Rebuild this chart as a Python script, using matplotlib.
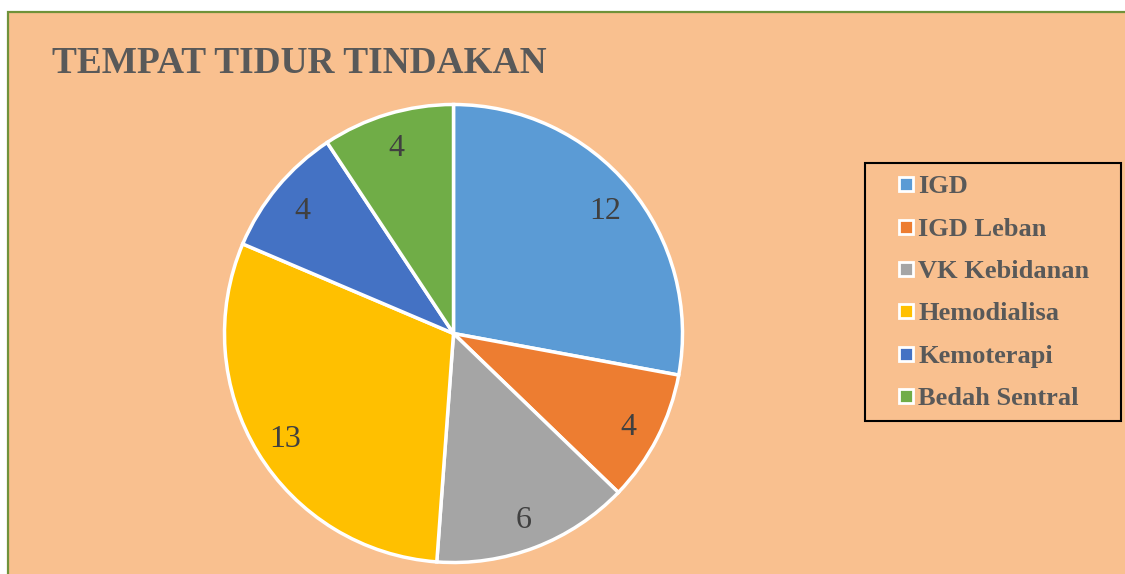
import matplotlib
matplotlib.use("Agg")
import matplotlib.pyplot as plt
from matplotlib.patches import Rectangle
from matplotlib.lines import Line2D

# chart data
labels = ['IGD', 'IGD Leban', 'VK Kebidanan', 'Hemodialisa', 'Kemoterapi', 'Bedah Sentral']
values = [12, 4, 6, 13, 4, 4]
colors = ['#5B9BD5', '#ED7D31', '#A5A5A5', '#FFC000', '#4472C4', '#70AD47']
title = 'TEMPAT TIDUR TINDAKAN'

W, H = 1125, 574
plt.rcParams['font.family'] = ['Liberation Serif', 'DejaVu Serif']

fig = plt.figure(figsize=(W / 100, H / 100), dpi=100, facecolor='white')

# peach chart area with green border (top and left visible)
fig.patches.append(Rectangle((8 / W, -0.05), 1.2, 1 - 12 / H + 0.05,
                             transform=fig.transFigure, facecolor='#F9C08F',
                             edgecolor='#70923A', linewidth=1.6, zorder=-5))

fig.text(52 / W, 1 - 73 / H, title, fontsize=26.9, fontweight='bold',
         color='#595959', va='baseline', ha='left')

# pie axes
cx, cy, r = 453.5, 333.5, 229
ax = fig.add_axes([(cx - r) / W, (H - cy - r) / H, 2 * r / W, 2 * r / H])
wedges, texts = ax.pie(values, colors=colors, startangle=90, counterclock=False,
                       labels=[str(v) for v in values], labeldistance=0.86,
                       wedgeprops=dict(edgecolor='white', linewidth=2.5),
                       textprops=dict(fontsize=23, color='#404040'))
for w in wedges:
    w.set_clip_on(False)
for t in texts:
    t.set_ha('center')
    t.set_va('center_baseline')
ax.set_xlim(-1, 1)
ax.set_ylim(-1, 1)
ax.set_aspect('equal')
ax.axis('off')

# legend box
fig.patches.append(Rectangle((865 / W, 1 - 421 / H), 256 / W, 258 / H,
                             transform=fig.transFigure, facecolor='none',
                             edgecolor='black', linewidth=1.5, zorder=3))

handles = [Line2D([], [], linestyle='none', marker='s', markersize=10,
                  markerfacecolor=c, markeredgecolor='white', markeredgewidth=2)
           for c in colors]
leg = fig.legend(handles, labels, loc='upper left',
                 bbox_to_anchor=(899 / W, 1 - 175 / H), borderaxespad=0,
                 frameon=False, borderpad=0,
                 prop=dict(family='Liberation Serif', weight='bold', size=19),
                 labelcolor='#595959', handlelength=0.5, handletextpad=0.23,
                 labelspacing=0.715)

fig.savefig('out.png', dpi=100, facecolor='white')
